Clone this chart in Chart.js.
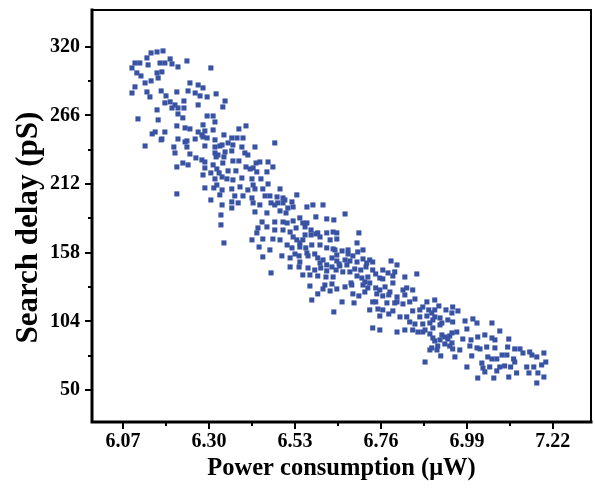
<!DOCTYPE html>
<html>
<head>
<meta charset="utf-8">
<script src="https://cdn.jsdelivr.net/npm/chart.js@4.4.0/dist/chart.umd.min.js"></script>
<style>
  html, body { margin: 0; padding: 0; background: #fff; }
  #wrap { width: 595px; height: 489px; }
</style>
</head>
<body>
<div id="wrap"><canvas id="chart-delay" width="595" height="489"></canvas></div>
<script>
// tick labels on the two axes
const xTickValues = [6.07, 6.30, 6.53, 6.76, 6.99, 7.22];
const yTickValues = [50, 104, 158, 212, 266, 320];
const xTitle = 'Power consumption (\u03bcW)';
const yTitle = 'Search delay (pS)';

// [power (uW), search delay (pS)]
const delaySamples = [
  [6.145,315.2],[6.161,316.0],[6.177,316.8],[6.102,307.3],[6.115,307.3],[6.134,311.3],[6.137,305.8],[6.169,307.3],
  [6.182,307.3],[6.196,310.5],[6.201,306.6],[6.241,308.9],[6.094,303.4],[6.107,299.5],[6.118,297.1],[6.161,299.5],
  [6.174,300.3],[6.164,295.5],[6.217,304.2],[6.305,303.4],[6.102,288.5],[6.094,283.7],[6.129,291.6],[6.145,293.2],
  [6.134,284.5],[6.142,280.6],[6.172,285.3],[6.185,281.4],[6.214,284.5],[6.249,291.6],[6.271,290.0],[6.284,287.7],
  [6.244,285.3],[6.263,283.7],[6.276,281.4],[6.295,280.6],[6.319,283.0],[6.182,275.9],[6.196,276.7],[6.209,274.3],
  [6.201,271.9],[6.233,277.4],[6.217,271.9],[6.233,271.9],[6.271,274.3],[6.161,270.4],[6.217,267.2],[6.230,264.1],
  [6.110,263.3],[6.164,262.5],[6.295,265.6],[6.311,265.6],[6.316,260.9],[6.214,257.8],[6.236,256.2],[6.249,255.4],
  [6.156,253.0],[6.182,253.0],[6.148,251.5],[6.271,253.0],[6.289,253.8],[6.311,254.6],[6.174,247.5],[6.217,247.5],
  [6.241,246.0],[6.263,247.5],[6.281,250.7],[6.295,248.3],[6.316,246.8],[6.129,242.0],[6.206,241.2],[6.241,241.2],
  [6.289,242.0],[6.316,241.2],[6.340,250.7],
  [6.172,246.8],[6.209,236.5],[6.236,245.2],[6.249,235.7],[6.230,228.6],[6.244,227.1],[6.214,225.5],[6.265,232.6],
  [6.281,231.0],[6.289,229.4],[6.316,236.5],[6.324,234.9],[6.329,242.0],[6.311,227.1],[6.321,223.9],[6.289,224.7],
  [6.305,220.8],[6.284,219.2],[6.316,216.1],[6.335,217.6],[6.321,211.3],[6.313,209.0],[6.289,209.0],[6.335,207.4],
  [6.329,203.5],[6.305,199.5],[6.214,204.3],[6.335,195.6],[6.332,187.7],[6.332,179.9],
  [6.343,277.4],[6.337,272.7],[6.284,258.6],[6.284,249.1],[6.399,257.8],[6.380,255.4],[6.361,248.3],[6.375,248.3],
  [6.391,248.3],[6.335,242.8],[6.351,244.4],[6.364,242.8],[6.476,244.4],[6.423,241.2],[6.388,241.2],[6.396,236.5],
  [6.404,234.9],[6.343,237.3],[6.361,238.1],[6.319,233.4],[6.340,233.4],[6.364,230.2],[6.380,230.2],[6.337,228.6],
  [6.426,228.6],[6.436,229.4],[6.458,229.4],[6.399,225.5],[6.410,223.9],[6.428,221.6],[6.471,225.5],[6.455,221.6],
  [6.327,220.8],[6.351,222.4],[6.372,222.4],[6.348,216.1],[6.364,215.3],[6.388,216.8],[6.415,216.1],[6.439,216.1],
  [6.458,212.1],[6.490,208.2],[6.535,203.5],[6.361,208.2],[6.383,209.8],[6.404,207.4],[6.423,208.2],[6.444,208.2],
  [6.463,202.7],[6.482,201.9],[6.503,199.5],[6.369,202.7],[6.391,202.7],[6.415,201.1],[6.361,198.0],[6.378,197.2],
  [6.418,197.2],[6.436,195.6],[6.466,197.2],[6.484,197.2],[6.522,198.0],[6.361,193.2],[6.340,165.7],
  [6.418,224.7],[6.418,211.3],[6.450,202.7],[6.498,201.1],[6.476,195.6],[6.498,197.2],[6.423,190.1],[6.455,189.3],
  [6.490,190.9],[6.506,189.3],[6.511,193.2],[6.525,194.0],[6.562,194.0],[6.578,195.6],[6.605,195.6],[6.664,188.5],
  [6.442,182.2],[6.476,182.2],[6.498,182.2],[6.509,181.4],[6.525,183.0],[6.543,185.4],[6.562,181.4],[6.586,186.2],
  [6.615,184.6],[6.634,183.8],[6.431,177.5],[6.455,178.3],[6.476,175.9],[6.498,175.9],[6.517,174.3],[6.533,177.5],
  [6.557,178.3],[6.573,175.9],[6.591,173.6],[6.632,174.3],[6.642,173.6],[6.428,173.6],[6.415,168.1],[6.444,168.8],
  [6.471,168.8],[6.490,168.1],[6.525,170.4],[6.535,168.1],[6.551,168.1],[6.573,172.0],[6.597,170.4],[6.624,168.1],
  [6.642,168.8],[6.434,162.5],[6.463,160.2],[6.509,164.1],[6.522,161.8],[6.543,162.5],[6.559,161.8],[6.575,164.1],
  [6.597,164.1],[6.615,161.8],[6.637,160.2],[6.656,159.4],[6.672,160.2],[6.444,154.7],[6.495,155.5],[6.517,153.9],
  [6.530,157.0],[6.541,155.5],[6.565,155.5],[6.591,153.9],[6.605,152.3],[6.629,153.9],[6.642,151.5],[6.664,152.3],
  [6.517,146.8],[6.541,146.8],[6.615,148.4],[6.629,146.8],[6.650,147.6],[6.669,148.4],[6.466,142.1],
  [6.551,181.4],[6.557,172.0],[6.586,172.8],[6.615,173.6],[6.701,173.6],[6.696,165.7],[6.543,165.7],[6.562,157.8],
  [6.583,157.0],[6.632,161.0],[6.672,157.0],[6.698,158.6],[6.712,160.2],[6.642,156.2],[6.685,155.5],[6.543,150.7],
  [6.597,149.9],[6.648,149.2],[6.677,151.5],[6.696,150.7],[6.712,153.1],[6.730,152.3],[6.787,151.5],[6.803,148.4],
  [6.565,146.0],[6.583,144.4],[6.599,146.0],[6.615,143.7],[6.640,144.4],[6.658,142.9],[6.690,145.2],[6.706,144.4],
  [6.720,146.8],[6.738,144.4],[6.765,144.4],[6.779,142.1],[6.797,142.9],[6.551,140.5],[6.570,140.5],[6.591,139.7],
  [6.613,138.9],[6.632,138.9],[6.696,139.7],[6.709,138.1],[6.725,138.9],[6.757,138.1],[6.610,132.6],[6.629,133.4],
  [6.570,131.8],[6.605,129.5],[6.624,127.9],[6.642,129.5],[6.664,131.1],[6.682,132.6],[6.712,132.6],[6.730,134.2],
  [6.746,130.3],[6.771,131.1],[6.792,134.2],[6.591,125.6],[6.685,125.6],[6.701,124.0],[6.717,127.1],[6.749,125.6],
  [6.765,124.0],[6.784,127.1],[6.803,123.2],[6.575,120.8],[6.656,119.3],[6.688,118.5],[6.746,119.3],[6.776,118.5],
  [6.797,118.5],[6.730,113.0],[6.765,113.0],[6.781,109.8],[6.634,111.4],
  [6.722,149.9],[6.738,150.7],[6.677,142.9],[6.717,135.0],[6.746,141.3],[6.765,137.4],[6.792,139.7],[6.824,138.9],
  [6.856,141.3],[6.680,134.2],[6.725,130.3],[6.757,128.7],[6.819,128.7],[6.829,130.3],[6.845,128.7],[6.781,124.8],
  [6.824,124.8],[6.851,121.6],[6.738,119.3],[6.803,119.3],[6.819,117.7],[6.837,119.3],[6.883,119.3],[6.904,120.8],
  [6.915,116.1],[6.752,113.7],[6.792,112.2],[6.845,112.2],[6.872,115.3],[6.888,113.0],[6.904,113.0],[6.934,113.0],
  [6.757,108.2],[6.811,107.5],[6.829,107.5],[6.864,107.5],[6.883,108.2],[6.904,107.5],[6.918,106.7],[6.939,105.1],
  [6.837,103.5],[6.851,101.9],[6.872,101.9],[6.891,102.7],[6.918,101.2],[6.738,98.8],[6.757,97.2],[6.803,95.6],
  [6.824,97.2],[6.845,97.2],[6.859,95.6],[6.878,97.2],[6.891,94.1],[6.899,90.9],[6.918,89.4],[6.931,91.7],
  [6.944,92.5],[6.896,83.1],[6.912,84.6],[6.931,86.2],
  [6.952,115.3],[6.966,112.2],[6.950,110.6],[6.864,113.0],[6.896,110.6],[6.899,105.1],[6.923,102.7],[6.952,103.5],
  [6.985,104.3],[7.006,105.9],[7.017,102.7],[7.057,102.7],[6.899,98.8],[6.872,95.6],[6.923,93.3],[6.950,94.9],
  [6.963,95.6],[6.990,98.0],[7.078,96.4],[6.904,88.6],[6.939,90.1],[6.950,87.0],[6.979,90.1],[7.001,89.4],
  [7.019,91.7],[7.038,93.3],[7.057,90.9],[7.065,89.4],[7.102,90.1],[6.891,81.5],[6.910,81.5],[6.944,84.6],
  [6.952,82.3],[6.971,81.5],[6.998,84.6],[7.017,83.1],[7.025,82.3],[7.043,83.8],[7.065,83.1],[7.099,83.8],
  [7.118,82.3],[7.132,82.3],[6.920,76.8],[6.958,76.0],[7.003,76.8],[7.046,76.0],[7.057,74.4],[7.070,74.4],
  [7.084,77.5],[7.097,77.5],[7.115,74.4],[7.140,79.1],[7.158,79.9],[7.164,77.5],[7.177,76.0],[7.196,79.1],
  [6.878,72.0],[6.990,68.1],[7.030,71.2],[7.033,67.3],[7.051,68.1],[7.078,68.1],[7.091,68.9],[7.107,68.1],
  [7.118,72.0],[7.150,68.1],[7.169,68.1],[7.190,69.7],[7.201,72.0],[7.038,64.2],[7.070,65.0],[7.123,63.4],
  [7.156,63.4],[7.180,63.4],[7.196,60.2],[7.019,59.4],[7.062,59.4],[7.102,60.2],[7.177,55.5]
];

// box round the plot plus outward major / minor tick marks
const frameTicks = {
  id: 'frameTicks',
  afterDatasetsDraw(chart) {
    const { ctx, chartArea: a, scales: { x, y } } = chart;
    ctx.save();
    ctx.strokeStyle = '#000';
    ctx.lineCap = 'square';

    ctx.lineWidth = 2;
    ctx.beginPath();
    ctx.moveTo(a.left, a.top);
    ctx.lineTo(a.right, a.top);
    ctx.lineTo(a.right, a.bottom);
    ctx.stroke();

    ctx.lineWidth = 3;
    ctx.beginPath();
    ctx.moveTo(a.left, a.top);
    ctx.lineTo(a.left, a.bottom);
    ctx.lineTo(a.right, a.bottom);
    ctx.stroke();

    ctx.lineCap = 'butt';
    ctx.lineWidth = 2;
    const xHalf = (xTickValues[1] - xTickValues[0]) / 2;
    const yHalf = (yTickValues[1] - yTickValues[0]) / 2;

    xTickValues.forEach((v, i) => {
      const px = Math.round(x.getPixelForValue(v));
      ctx.beginPath(); ctx.moveTo(px, a.bottom); ctx.lineTo(px, a.bottom + 7); ctx.stroke();
      if (i < xTickValues.length - 1) {
        const mx = Math.round(x.getPixelForValue(v + xHalf));
        ctx.beginPath(); ctx.moveTo(mx, a.bottom); ctx.lineTo(mx, a.bottom + 4); ctx.stroke();
      }
    });
    yTickValues.forEach((v, i) => {
      const py = Math.round(y.getPixelForValue(v));
      ctx.beginPath(); ctx.moveTo(a.left, py); ctx.lineTo(a.left - 7, py); ctx.stroke();
      if (i < yTickValues.length - 1) {
        const my = Math.round(y.getPixelForValue(v + yHalf));
        ctx.beginPath(); ctx.moveTo(a.left, my); ctx.lineTo(a.left - 4, my); ctx.stroke();
      }
    });
    ctx.restore();
  }
};

const serif = 'Liberation Serif, Times New Roman, serif';

new Chart(document.getElementById('chart-delay'), {
  type: 'scatter',
  data: {
    datasets: [{
      label: yTitle,
      data: delaySamples.map(p => ({ x: p[0], y: p[1] })),
      pointStyle: 'rect',
      pointRadius: 3.6,
      pointHoverRadius: 3.6,
      backgroundColor: '#3953a4',
      borderWidth: 0
    }]
  },
  options: {
    responsive: false,
    animation: false,
    layout: { padding: { top: 10, right: 4, left: 0, bottom: 0 } },
    plugins: {
      legend: { display: false },
      tooltip: { enabled: false }
    },
    scales: {
      x: {
        type: 'linear',
        min: 5.987,
        max: 7.322,
        afterBuildTicks: s => { s.ticks = xTickValues.map(v => ({ value: v })); },
        afterFit: s => { s.height = 67; s.paddingLeft = 0; s.paddingRight = 0; },
        grid: { display: false, drawTicks: false },
        border: { display: false },
        ticks: {
          autoSkip: false,
          maxRotation: 0,
          padding: 8,
          color: '#000',
          font: { family: serif, size: 20, weight: 'bold' },
          callback: v => Number(v).toFixed(2)
        },
        title: {
          display: true,
          text: xTitle,
          color: '#000',
          font: { family: serif, size: 24.5, weight: 'bold' },
          padding: { top: 0, bottom: 6 }
        }
      },
      y: {
        type: 'linear',
        min: 24.8,
        max: 349,
        afterBuildTicks: s => { s.ticks = yTickValues.map(v => ({ value: v })); },
        afterFit: s => { s.width = 92; s.paddingTop = 0; s.paddingBottom = 0; },
        grid: { display: false, drawTicks: false },
        border: { display: false },
        ticks: {
          autoSkip: false,
          padding: 12,
          color: '#000',
          font: { family: serif, size: 20, weight: 'bold' },
          callback: v => String(v)
        },
        title: {
          display: true,
          text: yTitle + '   ',
          color: '#000',
          font: { family: serif, size: 31, weight: 'bold' },
          padding: { top: 10, bottom: 0 }
        }
      }
    }
  },
  plugins: [frameTicks]
});
</script>
</body>
</html>
